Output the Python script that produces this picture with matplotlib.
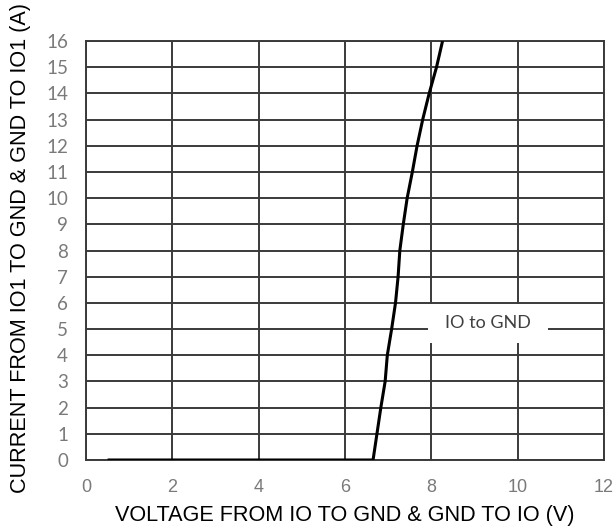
import matplotlib
matplotlib.use("Agg")
import matplotlib.pyplot as plt
from matplotlib.patches import Rectangle

voltage = [0.5, 6.65, 6.74, 6.83, 6.93, 6.98, 7.08, 7.17, 7.23, 7.27, 7.35,
           7.44, 7.56, 7.67, 7.80, 7.95, 8.12, 8.26]
current = [0, 0, 1, 2, 3, 4, 5, 6, 7, 8, 9, 10, 11, 12, 13, 14, 15, 16]
x_ticks = [0, 2, 4, 6, 8, 10, 12]
y_ticks = list(range(0, 17))
series_label = "IO to GND"
x_label = "VOLTAGE FROM IO TO GND & GND TO IO (V)"
y_label = "CURRENT FROM IO1 TO GND & GND TO IO1 (A)"

fig = plt.figure(figsize=(6.15, 5.31), dpi=100)
ax = fig.add_axes([86/615, 1-460/531, 518/615, 419/531])

ax.plot(voltage, current, color="black", lw=2.2, label=series_label,
        solid_capstyle="butt", zorder=3)
ax.set_xlim(0, 12)
ax.set_ylim(0, 16)
ax.set_xticks(x_ticks)
ax.set_yticks(y_ticks)
ax.grid(True, color="#3a3a3a", lw=1.4)
ax.set_axisbelow(True)
for s in ax.spines.values():
    s.set_color("#3a3a3a")
    s.set_linewidth(1.4)
ax.tick_params(length=0, labelcolor="#7a7a7a")
ax.tick_params(axis="y", pad=13, labelsize=13.5)
ax.tick_params(axis="x", pad=14, labelsize=13)
for lab in ax.get_yticklabels():
    lab.set_fontfamily(["Lato", "DejaVu Sans"])
for lab in ax.get_xticklabels():
    lab.set_fontfamily(["Liberation Sans", "DejaVu Sans"])

fig.text(345/615, 1-515/531, x_label, fontsize=15.6,
         family=["Liberation Sans", "DejaVu Sans"], ha="center", va="center")
fig.text(21/615, 1-248/531, y_label, rotation=90, fontsize=15.6,
         family=["Liberation Sans", "DejaVu Sans"], ha="center", va="center")

# legend box (white background covering gridlines)
x0, x1 = (428-86)/518*12, (548-86)/518*12
y0, y1 = (460-343)/419*16, (460-304)/419*16
ax.add_patch(Rectangle((x0, y0), x1-x0, y1-y0, facecolor="white",
                       edgecolor="none", zorder=2.5))
ax.text((x0+x1)/2, (y0+y1)/2, series_label, ha="center", va="center",
        fontsize=13, color="#404040", family=["Lato", "DejaVu Sans"], zorder=4)

fig.savefig("out.png", dpi=100)
